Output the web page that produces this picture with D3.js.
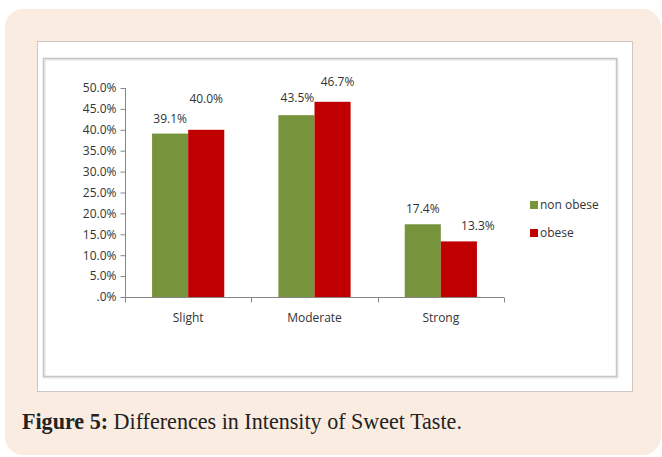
<!DOCTYPE html>
<html>
<head>
<meta charset="utf-8">
<script src="https://cdn.jsdelivr.net/npm/d3@7"></script>
<style>
  body { margin: 0; background: #fff; }
  svg { display: block; }
  .tick text, .lbl, .legend text { font-family: "Open Sans", "Liberation Sans", sans-serif; fill: #333; }
</style>
</head>
<body>
<svg id="chart" width="662" height="457"></svg>
<script>
// data
var categories = ["Slight", "Moderate", "Strong"];
var series = ["non obese", "obese"];
var nonObese = [0.391, 0.435, 0.174];
var obese = [0.400, 0.467, 0.133];
var yTicks = [0, 0.05, 0.10, 0.15, 0.20, 0.25, 0.30, 0.35, 0.40, 0.45, 0.50];

var colors = { "non obese": "#77933c", "obese": "#c00000" };

// the original labels are not all sitting right above their bar
var labelShift = {
  "non obese": [[0, 0], [1, -2], [0, 0]],
  "obese": [[0, -16], [5, -5], [19, 0]]
};

var svg = d3.select("#chart");

// page panel + picture frame
svg.append("rect").attr("x", 5).attr("y", 9).attr("width", 656).attr("height", 446)
  .attr("rx", 18).attr("fill", "#fbece1");
svg.append("rect").attr("x", 37.5).attr("y", 41.5).attr("width", 595).attr("height", 350)
  .attr("fill", "#fff").attr("stroke", "#cfc6c1");
svg.append("rect").attr("x", 44).attr("y", 59).attr("width", 573).attr("height", 318)
  .attr("fill", "none").attr("stroke", "#e2e2e2").attr("stroke-width", 3);
svg.append("rect").attr("x", 43.5).attr("y", 58.5).attr("width", 573).attr("height", 318)
  .attr("fill", "none").attr("stroke", "#c4c4c4");

var x = d3.scaleBand().domain(categories).range([125, 504]);
var xs = d3.scaleBand().domain(series).range([0, x.bandwidth()]).paddingOuter(0.75);
var y = d3.scaleLinear().domain([0, 0.5]).range([297, 88]);

var fmt = function(d) {
  return d === 0 ? ".0%" : (d * 100).toFixed(1) + "%";
};

// y axis
var yAxis = d3.axisLeft(y).tickValues(yTicks).tickFormat(fmt).tickSize(5).tickPadding(4);
var gy = svg.append("g").attr("transform", "translate(125.5,0)").call(yAxis);
gy.select(".domain").attr("stroke", "#868686").attr("d", "M0," + y(0.5) + "V" + y(0));
gy.selectAll(".tick line").attr("stroke", "#868686");
gy.selectAll(".tick text").style("font-size", "12px");

// x axis: line + ticks on category borders
var gx = svg.append("g").attr("transform", "translate(0," + (y(0) + 0.5) + ")");
gx.append("line").attr("x1", 125).attr("x2", 504).attr("stroke", "#868686");
var borders = categories.map(function(c) { return x(c); }).concat([x.range()[1]]);
gx.selectAll(".bt").data(borders).enter().append("line")
  .attr("x1", function(d) { return Math.round(d) + 0.5; })
  .attr("x2", function(d) { return Math.round(d) + 0.5; })
  .attr("y1", 0).attr("y2", 5).attr("stroke", "#868686");
gx.selectAll(".cat").data(categories).enter().append("text")
  .attr("class", "lbl")
  .attr("x", function(d) { return x(d) + x.bandwidth() / 2; })
  .attr("y", 24)
  .attr("text-anchor", "middle")
  .style("font-size", "12px")
  .text(function(d) { return d; });

// bars
var rows = [];
categories.forEach(function(c, i) {
  rows.push({ cat: c, s: "non obese", v: nonObese[i], i: i });
  rows.push({ cat: c, s: "obese", v: obese[i], i: i });
});

svg.selectAll(".bar").data(rows).enter().append("rect")
  .attr("x", function(d) { return x(d.cat) + xs(d.s); })
  .attr("y", function(d) { return y(d.v); })
  .attr("width", xs.bandwidth())
  .attr("height", function(d) { return y(0) - y(d.v); })
  .attr("fill", function(d) { return colors[d.s]; });

svg.selectAll(".val").data(rows).enter().append("text")
  .attr("class", "lbl")
  .attr("text-anchor", "middle")
  .style("font-size", "12px")
  .attr("x", function(d) { return x(d.cat) + xs(d.s) + xs.bandwidth() / 2 + labelShift[d.s][d.i][0]; })
  .attr("y", function(d) { return y(d.v) - 11 + labelShift[d.s][d.i][1]; })
  .text(function(d) { return (d.v * 100).toFixed(1) + "%"; });

// legend
var lg = svg.append("g").attr("class", "legend");
var li = lg.selectAll("g").data(series).enter().append("g")
  .attr("transform", function(d, i) { return "translate(530," + (201 + i * 28) + ")"; });
li.append("rect").attr("width", 8).attr("height", 8).attr("fill", function(d) { return colors[d]; });
li.append("text").attr("x", 10).attr("y", 8).style("font-size", "12px").text(function(d) { return d; });

// caption
var cap = svg.append("text").attr("x", 22).attr("y", 429)
  .style("font-family", "'Liberation Serif', 'Times New Roman', serif")
  .style("font-size", "20px").attr("fill", "#222");
cap.append("tspan").style("font-weight", "bold").text("Figure 5:");
cap.append("tspan").text(" Differences in Intensity of Sweet Taste.");
// fit caption to its width in the original
var w = cap.node().getComputedTextLength();
cap.style("font-size", (20 * 440 / w).toFixed(2) + "px");
</script>
</body>
</html>
